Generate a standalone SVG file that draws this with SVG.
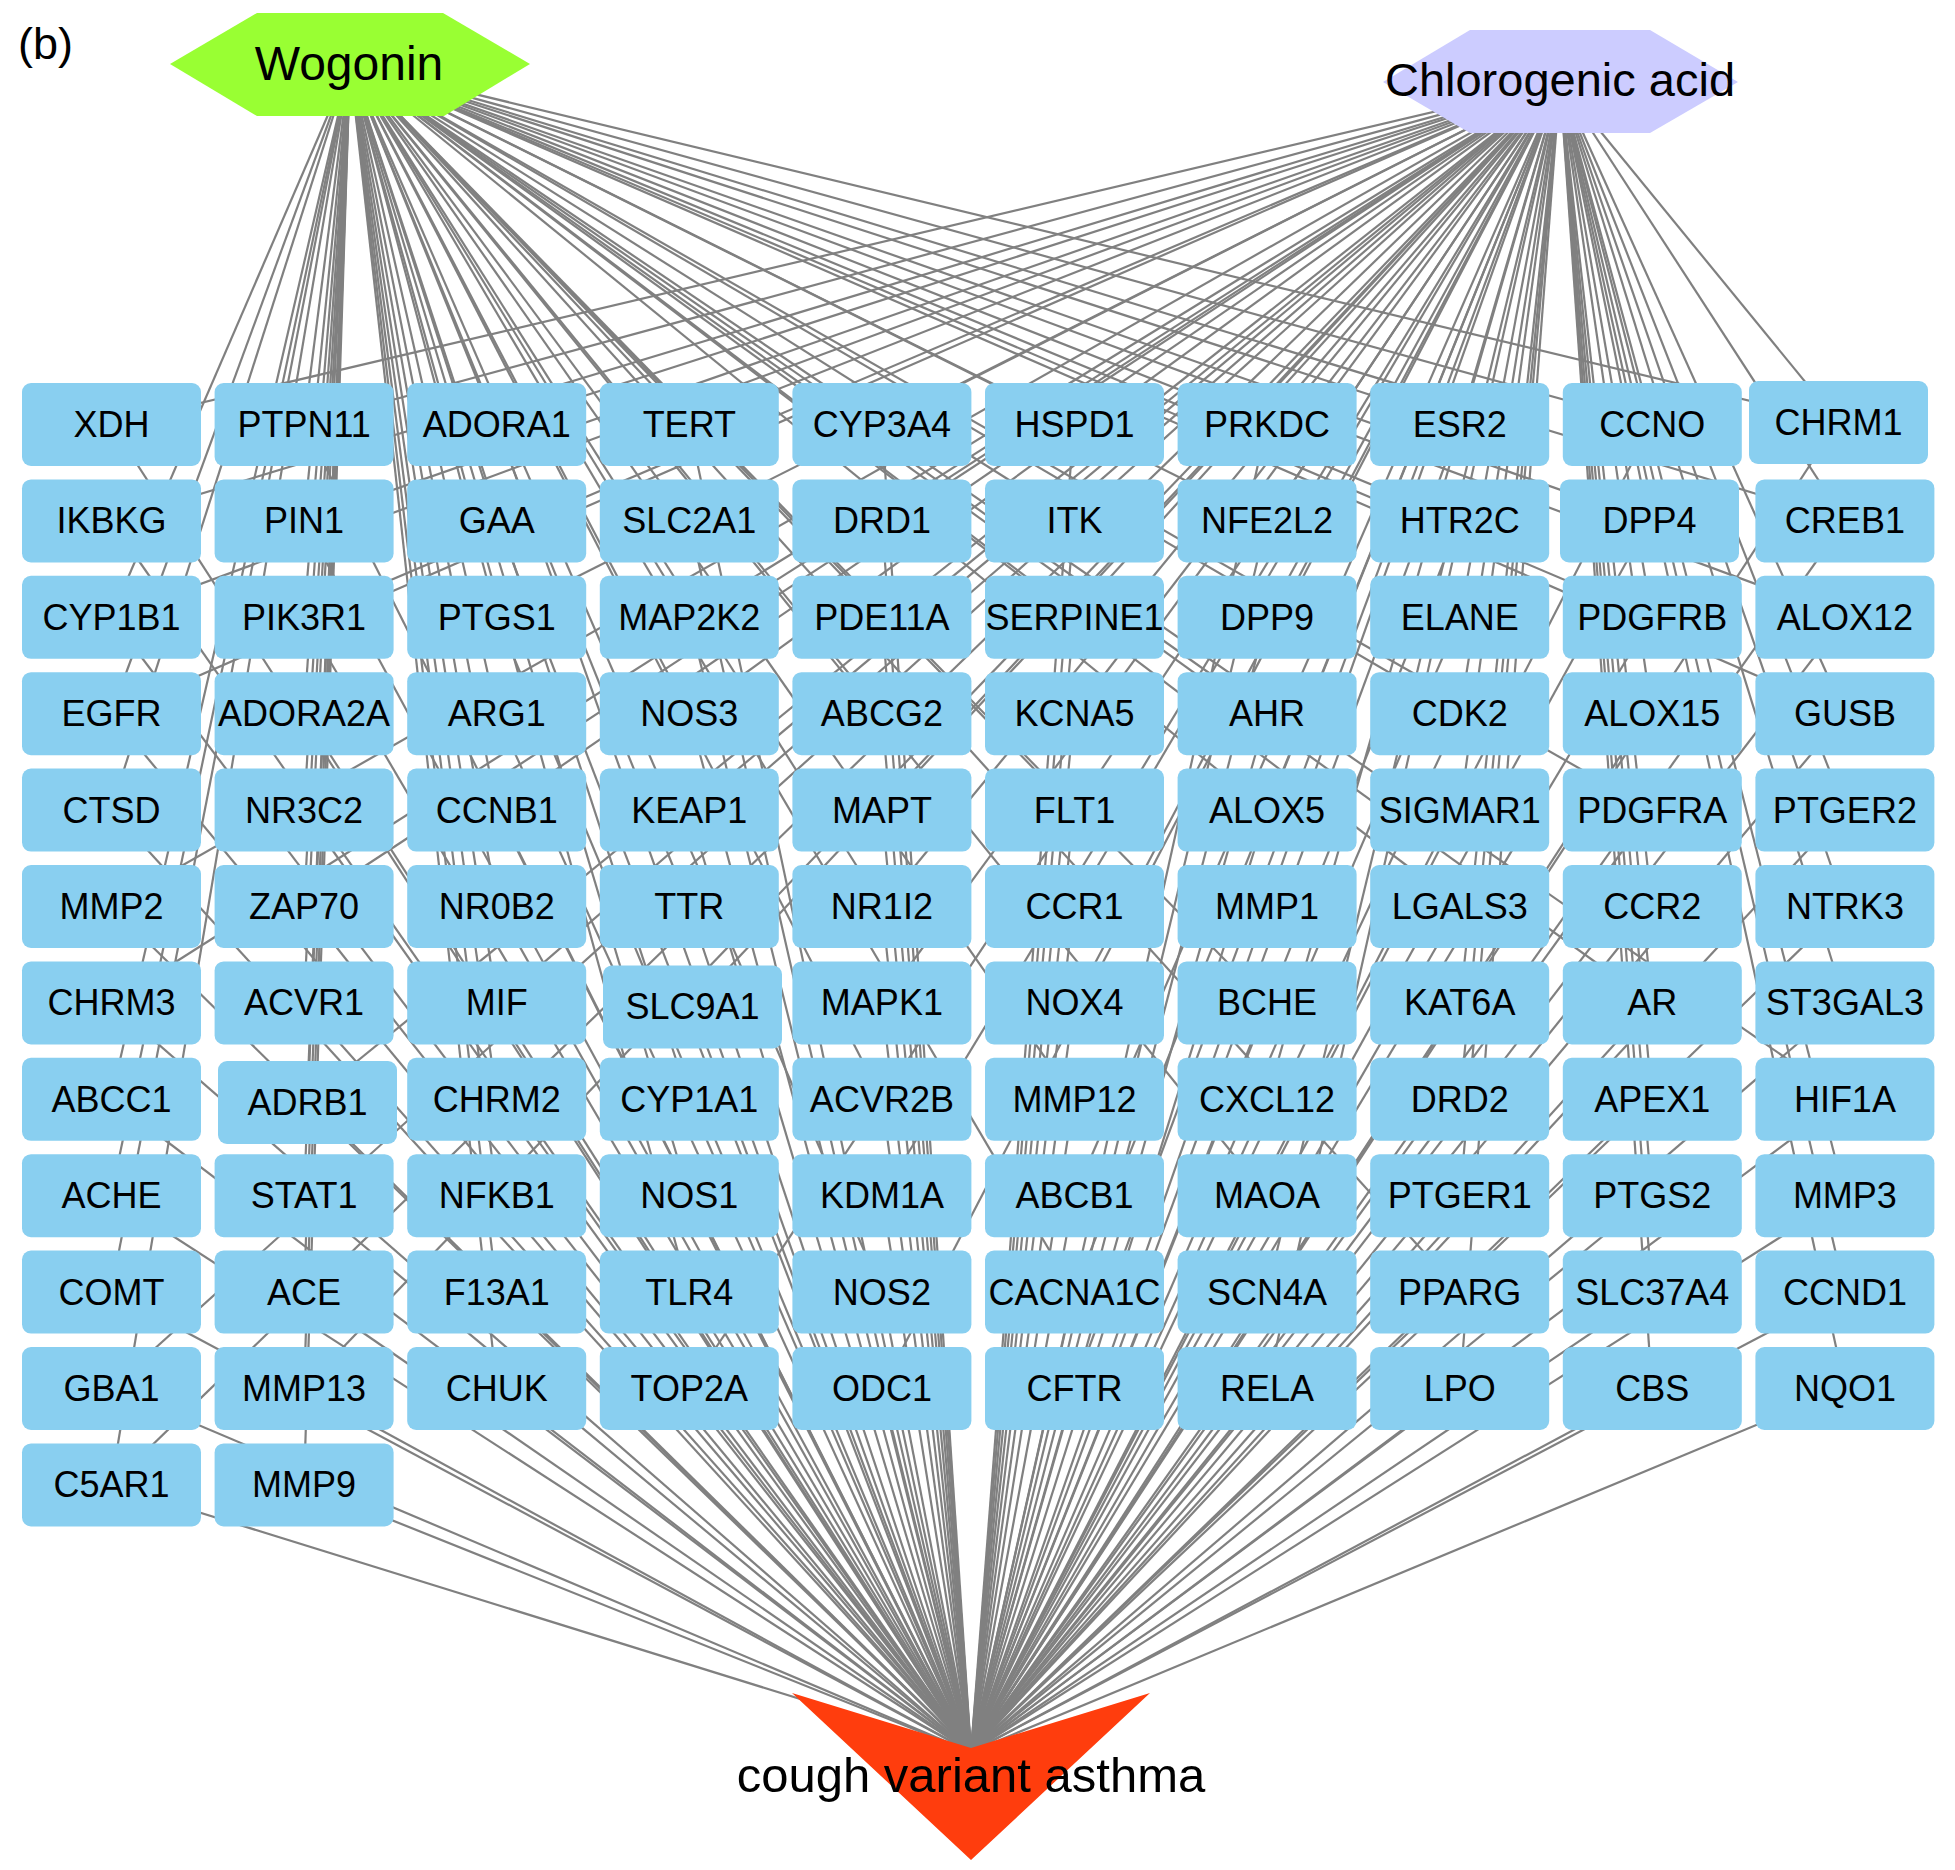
<svg xmlns="http://www.w3.org/2000/svg" width="1955" height="1870" viewBox="0 0 1955 1870">
<style>
.e{stroke:#808080;stroke-width:2.2;fill:none}
.box{fill:#89CFF0}
.lbl{font-family:"Liberation Sans",Arial,sans-serif;font-size:36px;fill:#000;text-anchor:middle}
.hub{font-family:"Liberation Sans",Arial,sans-serif;fill:#000;text-anchor:middle}
</style>
<defs>
<rect id="gbox" class="box" x="0" y="0" width="179" height="83" rx="9" ry="9"/>
</defs>
<rect x="0" y="0" width="1955" height="1870" fill="#fff"/>
<text x="18" y="59" font-family="Liberation Sans,Arial,sans-serif" font-size="45" fill="#000">(b)</text>
<g id="connectors" class="e">
<g id="edges-wogonin">
<line x1="350" y1="64" x2="111" y2="617"/><line x1="350" y1="64" x2="111" y2="714"/><line x1="350" y1="64" x2="111" y2="810"/><line x1="350" y1="64" x2="111" y2="1099"/><line x1="350" y1="64" x2="111" y2="1196"/><line x1="350" y1="64" x2="111" y2="1292"/><line x1="350" y1="64" x2="111" y2="1485"/>
<line x1="350" y1="64" x2="304" y2="424"/><line x1="350" y1="64" x2="304" y2="521"/><line x1="350" y1="64" x2="304" y2="617"/><line x1="350" y1="64" x2="304" y2="714"/><line x1="350" y1="64" x2="304" y2="810"/><line x1="350" y1="64" x2="304" y2="906"/><line x1="350" y1="64" x2="304" y2="1003"/><line x1="350" y1="64" x2="307" y2="1102"/><line x1="350" y1="64" x2="304" y2="1196"/><line x1="350" y1="64" x2="304" y2="1292"/><line x1="350" y1="64" x2="304" y2="1388"/><line x1="350" y1="64" x2="304" y2="1485"/>
<line x1="350" y1="64" x2="497" y2="424"/><line x1="350" y1="64" x2="497" y2="521"/><line x1="350" y1="64" x2="497" y2="617"/><line x1="350" y1="64" x2="497" y2="714"/><line x1="350" y1="64" x2="497" y2="810"/><line x1="350" y1="64" x2="497" y2="906"/><line x1="350" y1="64" x2="497" y2="1003"/><line x1="350" y1="64" x2="497" y2="1099"/><line x1="350" y1="64" x2="497" y2="1196"/><line x1="350" y1="64" x2="497" y2="1292"/><line x1="350" y1="64" x2="497" y2="1388"/>
<line x1="350" y1="64" x2="689" y2="424"/><line x1="350" y1="64" x2="689" y2="521"/><line x1="350" y1="64" x2="689" y2="617"/><line x1="350" y1="64" x2="689" y2="714"/><line x1="350" y1="64" x2="689" y2="906"/><line x1="350" y1="64" x2="689" y2="1099"/><line x1="350" y1="64" x2="689" y2="1196"/><line x1="350" y1="64" x2="689" y2="1292"/>
<line x1="350" y1="64" x2="882" y2="424"/><line x1="350" y1="64" x2="882" y2="617"/><line x1="350" y1="64" x2="882" y2="714"/><line x1="350" y1="64" x2="882" y2="906"/><line x1="350" y1="64" x2="882" y2="1099"/><line x1="350" y1="64" x2="882" y2="1292"/>
<line x1="350" y1="64" x2="1074" y2="424"/><line x1="350" y1="64" x2="1074" y2="521"/><line x1="350" y1="64" x2="1074" y2="617"/><line x1="350" y1="64" x2="1074" y2="810"/><line x1="350" y1="64" x2="1074" y2="1099"/><line x1="350" y1="64" x2="1074" y2="1292"/>
<line x1="350" y1="64" x2="1267" y2="424"/><line x1="350" y1="64" x2="1267" y2="521"/><line x1="350" y1="64" x2="1267" y2="714"/><line x1="350" y1="64" x2="1267" y2="810"/><line x1="350" y1="64" x2="1267" y2="1003"/><line x1="350" y1="64" x2="1267" y2="1196"/>
<line x1="350" y1="64" x2="1460" y2="424"/><line x1="350" y1="64" x2="1460" y2="521"/><line x1="350" y1="64" x2="1460" y2="714"/><line x1="350" y1="64" x2="1460" y2="906"/><line x1="350" y1="64" x2="1460" y2="1292"/>
<line x1="350" y1="64" x2="1652" y2="424"/><line x1="350" y1="64" x2="1649" y2="521"/><line x1="350" y1="64" x2="1652" y2="617"/><line x1="350" y1="64" x2="1652" y2="810"/><line x1="350" y1="64" x2="1652" y2="1003"/>
<line x1="350" y1="64" x2="1838" y2="422"/><line x1="350" y1="64" x2="1845" y2="521"/><line x1="350" y1="64" x2="1845" y2="617"/><line x1="350" y1="64" x2="1845" y2="714"/><line x1="350" y1="64" x2="1845" y2="1099"/>
</g>
<g id="edges-chlorogenic">
<line x1="1560" y1="82" x2="111" y2="424"/><line x1="1560" y1="82" x2="111" y2="521"/><line x1="1560" y1="82" x2="111" y2="617"/><line x1="1560" y1="82" x2="111" y2="714"/><line x1="1560" y1="82" x2="111" y2="906"/><line x1="1560" y1="82" x2="111" y2="1003"/><line x1="1560" y1="82" x2="111" y2="1388"/><line x1="1560" y1="82" x2="111" y2="1485"/>
<line x1="1560" y1="82" x2="304" y2="424"/><line x1="1560" y1="82" x2="304" y2="521"/><line x1="1560" y1="82" x2="304" y2="617"/><line x1="1560" y1="82" x2="304" y2="906"/><line x1="1560" y1="82" x2="307" y2="1102"/><line x1="1560" y1="82" x2="304" y2="1388"/>
<line x1="1560" y1="82" x2="497" y2="424"/><line x1="1560" y1="82" x2="497" y2="617"/><line x1="1560" y1="82" x2="497" y2="810"/><line x1="1560" y1="82" x2="497" y2="1003"/>
<line x1="1560" y1="82" x2="689" y2="424"/><line x1="1560" y1="82" x2="689" y2="617"/><line x1="1560" y1="82" x2="689" y2="714"/><line x1="1560" y1="82" x2="689" y2="810"/><line x1="1560" y1="82" x2="692" y2="1007"/><line x1="1560" y1="82" x2="689" y2="1388"/>
<line x1="1560" y1="82" x2="882" y2="424"/><line x1="1560" y1="82" x2="882" y2="521"/><line x1="1560" y1="82" x2="882" y2="617"/><line x1="1560" y1="82" x2="882" y2="810"/><line x1="1560" y1="82" x2="882" y2="906"/><line x1="1560" y1="82" x2="882" y2="1003"/><line x1="1560" y1="82" x2="882" y2="1196"/><line x1="1560" y1="82" x2="882" y2="1388"/>
<line x1="1560" y1="82" x2="1074" y2="617"/><line x1="1560" y1="82" x2="1074" y2="714"/><line x1="1560" y1="82" x2="1074" y2="906"/><line x1="1560" y1="82" x2="1074" y2="1003"/><line x1="1560" y1="82" x2="1074" y2="1196"/><line x1="1560" y1="82" x2="1074" y2="1292"/><line x1="1560" y1="82" x2="1074" y2="1388"/>
<line x1="1560" y1="82" x2="1267" y2="424"/><line x1="1560" y1="82" x2="1267" y2="521"/><line x1="1560" y1="82" x2="1267" y2="617"/><line x1="1560" y1="82" x2="1267" y2="810"/><line x1="1560" y1="82" x2="1267" y2="906"/><line x1="1560" y1="82" x2="1267" y2="1099"/><line x1="1560" y1="82" x2="1267" y2="1292"/><line x1="1560" y1="82" x2="1267" y2="1388"/>
<line x1="1560" y1="82" x2="1460" y2="424"/><line x1="1560" y1="82" x2="1460" y2="617"/><line x1="1560" y1="82" x2="1460" y2="714"/><line x1="1560" y1="82" x2="1460" y2="810"/><line x1="1560" y1="82" x2="1460" y2="1003"/><line x1="1560" y1="82" x2="1460" y2="1099"/><line x1="1560" y1="82" x2="1460" y2="1196"/><line x1="1560" y1="82" x2="1460" y2="1388"/>
<line x1="1560" y1="82" x2="1652" y2="424"/><line x1="1560" y1="82" x2="1649" y2="521"/><line x1="1560" y1="82" x2="1652" y2="617"/><line x1="1560" y1="82" x2="1652" y2="714"/><line x1="1560" y1="82" x2="1652" y2="906"/><line x1="1560" y1="82" x2="1652" y2="1003"/><line x1="1560" y1="82" x2="1652" y2="1099"/><line x1="1560" y1="82" x2="1652" y2="1196"/><line x1="1560" y1="82" x2="1652" y2="1292"/><line x1="1560" y1="82" x2="1652" y2="1388"/>
<line x1="1560" y1="82" x2="1838" y2="422"/><line x1="1560" y1="82" x2="1845" y2="521"/><line x1="1560" y1="82" x2="1845" y2="714"/><line x1="1560" y1="82" x2="1845" y2="810"/><line x1="1560" y1="82" x2="1845" y2="906"/><line x1="1560" y1="82" x2="1845" y2="1003"/><line x1="1560" y1="82" x2="1845" y2="1196"/><line x1="1560" y1="82" x2="1845" y2="1292"/><line x1="1560" y1="82" x2="1845" y2="1388"/>
</g>
<g id="edges-cva">
<line x1="971" y1="1752" x2="111" y2="424"/><line x1="971" y1="1752" x2="111" y2="521"/><line x1="971" y1="1752" x2="111" y2="617"/><line x1="971" y1="1752" x2="111" y2="714"/><line x1="971" y1="1752" x2="111" y2="810"/><line x1="971" y1="1752" x2="111" y2="906"/><line x1="971" y1="1752" x2="111" y2="1003"/><line x1="971" y1="1752" x2="111" y2="1099"/><line x1="971" y1="1752" x2="111" y2="1196"/><line x1="971" y1="1752" x2="111" y2="1292"/><line x1="971" y1="1752" x2="111" y2="1388"/><line x1="971" y1="1752" x2="111" y2="1485"/>
<line x1="971" y1="1752" x2="304" y2="424"/><line x1="971" y1="1752" x2="304" y2="521"/><line x1="971" y1="1752" x2="304" y2="617"/><line x1="971" y1="1752" x2="304" y2="714"/><line x1="971" y1="1752" x2="304" y2="810"/><line x1="971" y1="1752" x2="304" y2="906"/><line x1="971" y1="1752" x2="304" y2="1003"/><line x1="971" y1="1752" x2="307" y2="1102"/><line x1="971" y1="1752" x2="304" y2="1196"/><line x1="971" y1="1752" x2="304" y2="1292"/><line x1="971" y1="1752" x2="304" y2="1388"/><line x1="971" y1="1752" x2="304" y2="1485"/>
<line x1="971" y1="1752" x2="497" y2="424"/><line x1="971" y1="1752" x2="497" y2="521"/><line x1="971" y1="1752" x2="497" y2="617"/><line x1="971" y1="1752" x2="497" y2="714"/><line x1="971" y1="1752" x2="497" y2="810"/><line x1="971" y1="1752" x2="497" y2="906"/><line x1="971" y1="1752" x2="497" y2="1003"/><line x1="971" y1="1752" x2="497" y2="1099"/><line x1="971" y1="1752" x2="497" y2="1196"/><line x1="971" y1="1752" x2="497" y2="1292"/><line x1="971" y1="1752" x2="497" y2="1388"/>
<line x1="971" y1="1752" x2="689" y2="424"/><line x1="971" y1="1752" x2="689" y2="521"/><line x1="971" y1="1752" x2="689" y2="617"/><line x1="971" y1="1752" x2="689" y2="714"/><line x1="971" y1="1752" x2="689" y2="810"/><line x1="971" y1="1752" x2="689" y2="906"/><line x1="971" y1="1752" x2="692" y2="1007"/><line x1="971" y1="1752" x2="689" y2="1099"/><line x1="971" y1="1752" x2="689" y2="1196"/><line x1="971" y1="1752" x2="689" y2="1292"/><line x1="971" y1="1752" x2="689" y2="1388"/>
<line x1="971" y1="1752" x2="882" y2="424"/><line x1="971" y1="1752" x2="882" y2="521"/><line x1="971" y1="1752" x2="882" y2="617"/><line x1="971" y1="1752" x2="882" y2="714"/><line x1="971" y1="1752" x2="882" y2="810"/><line x1="971" y1="1752" x2="882" y2="906"/><line x1="971" y1="1752" x2="882" y2="1003"/><line x1="971" y1="1752" x2="882" y2="1099"/><line x1="971" y1="1752" x2="882" y2="1196"/><line x1="971" y1="1752" x2="882" y2="1292"/><line x1="971" y1="1752" x2="882" y2="1388"/>
<line x1="971" y1="1752" x2="1074" y2="424"/><line x1="971" y1="1752" x2="1074" y2="521"/><line x1="971" y1="1752" x2="1074" y2="617"/><line x1="971" y1="1752" x2="1074" y2="714"/><line x1="971" y1="1752" x2="1074" y2="810"/><line x1="971" y1="1752" x2="1074" y2="906"/><line x1="971" y1="1752" x2="1074" y2="1003"/><line x1="971" y1="1752" x2="1074" y2="1099"/><line x1="971" y1="1752" x2="1074" y2="1196"/><line x1="971" y1="1752" x2="1074" y2="1292"/><line x1="971" y1="1752" x2="1074" y2="1388"/>
<line x1="971" y1="1752" x2="1267" y2="424"/><line x1="971" y1="1752" x2="1267" y2="521"/><line x1="971" y1="1752" x2="1267" y2="617"/><line x1="971" y1="1752" x2="1267" y2="714"/><line x1="971" y1="1752" x2="1267" y2="810"/><line x1="971" y1="1752" x2="1267" y2="906"/><line x1="971" y1="1752" x2="1267" y2="1003"/><line x1="971" y1="1752" x2="1267" y2="1099"/><line x1="971" y1="1752" x2="1267" y2="1196"/><line x1="971" y1="1752" x2="1267" y2="1292"/><line x1="971" y1="1752" x2="1267" y2="1388"/>
<line x1="971" y1="1752" x2="1460" y2="424"/><line x1="971" y1="1752" x2="1460" y2="521"/><line x1="971" y1="1752" x2="1460" y2="617"/><line x1="971" y1="1752" x2="1460" y2="714"/><line x1="971" y1="1752" x2="1460" y2="810"/><line x1="971" y1="1752" x2="1460" y2="906"/><line x1="971" y1="1752" x2="1460" y2="1003"/><line x1="971" y1="1752" x2="1460" y2="1099"/><line x1="971" y1="1752" x2="1460" y2="1196"/><line x1="971" y1="1752" x2="1460" y2="1292"/><line x1="971" y1="1752" x2="1460" y2="1388"/>
<line x1="971" y1="1752" x2="1652" y2="424"/><line x1="971" y1="1752" x2="1649" y2="521"/><line x1="971" y1="1752" x2="1652" y2="617"/><line x1="971" y1="1752" x2="1652" y2="714"/><line x1="971" y1="1752" x2="1652" y2="810"/><line x1="971" y1="1752" x2="1652" y2="906"/><line x1="971" y1="1752" x2="1652" y2="1003"/><line x1="971" y1="1752" x2="1652" y2="1099"/><line x1="971" y1="1752" x2="1652" y2="1196"/><line x1="971" y1="1752" x2="1652" y2="1292"/><line x1="971" y1="1752" x2="1652" y2="1388"/>
<line x1="971" y1="1752" x2="1838" y2="422"/><line x1="971" y1="1752" x2="1845" y2="521"/><line x1="971" y1="1752" x2="1845" y2="617"/><line x1="971" y1="1752" x2="1845" y2="714"/><line x1="971" y1="1752" x2="1845" y2="810"/><line x1="971" y1="1752" x2="1845" y2="906"/><line x1="971" y1="1752" x2="1845" y2="1003"/><line x1="971" y1="1752" x2="1845" y2="1099"/><line x1="971" y1="1752" x2="1845" y2="1196"/><line x1="971" y1="1752" x2="1845" y2="1292"/><line x1="971" y1="1752" x2="1845" y2="1388"/>
</g>
</g>
<g id="genes">
<g id="n-XDH" transform="translate(22,383)"><use href="#gbox"/><text class="lbl" x="89.5" y="54">XDH</text></g>
<g id="n-PTPN11" transform="translate(214.6,383)"><use href="#gbox"/><text class="lbl" x="89.5" y="54">PTPN11</text></g>
<g id="n-ADORA1" transform="translate(407.2,383)"><use href="#gbox"/><text class="lbl" x="89.5" y="54">ADORA1</text></g>
<g id="n-TERT" transform="translate(599.8,383)"><use href="#gbox"/><text class="lbl" x="89.5" y="54">TERT</text></g>
<g id="n-CYP3A4" transform="translate(792.4,383)"><use href="#gbox"/><text class="lbl" x="89.5" y="54">CYP3A4</text></g>
<g id="n-HSPD1" transform="translate(985,383)"><use href="#gbox"/><text class="lbl" x="89.5" y="54">HSPD1</text></g>
<g id="n-PRKDC" transform="translate(1177.6,383)"><use href="#gbox"/><text class="lbl" x="89.5" y="54">PRKDC</text></g>
<g id="n-ESR2" transform="translate(1370.2,383)"><use href="#gbox"/><text class="lbl" x="89.5" y="54">ESR2</text></g>
<g id="n-CCNO" transform="translate(1562.8,383)"><use href="#gbox"/><text class="lbl" x="89.5" y="54">CCNO</text></g>
<g id="n-CHRM1" transform="translate(1749,381)"><use href="#gbox"/><text class="lbl" x="89.5" y="54">CHRM1</text></g>

<g id="n-IKBKG" transform="translate(22,479.4)"><use href="#gbox"/><text class="lbl" x="89.5" y="54">IKBKG</text></g>
<g id="n-PIN1" transform="translate(214.6,479.4)"><use href="#gbox"/><text class="lbl" x="89.5" y="54">PIN1</text></g>
<g id="n-GAA" transform="translate(407.2,479.4)"><use href="#gbox"/><text class="lbl" x="89.5" y="54">GAA</text></g>
<g id="n-SLC2A1" transform="translate(599.8,479.4)"><use href="#gbox"/><text class="lbl" x="89.5" y="54">SLC2A1</text></g>
<g id="n-DRD1" transform="translate(792.4,479.4)"><use href="#gbox"/><text class="lbl" x="89.5" y="54">DRD1</text></g>
<g id="n-ITK" transform="translate(985,479.4)"><use href="#gbox"/><text class="lbl" x="89.5" y="54">ITK</text></g>
<g id="n-NFE2L2" transform="translate(1177.6,479.4)"><use href="#gbox"/><text class="lbl" x="89.5" y="54">NFE2L2</text></g>
<g id="n-HTR2C" transform="translate(1370.2,479.4)"><use href="#gbox"/><text class="lbl" x="89.5" y="54">HTR2C</text></g>
<g id="n-DPP4" transform="translate(1560,479.4)"><use href="#gbox"/><text class="lbl" x="89.5" y="54">DPP4</text></g>
<g id="n-CREB1" transform="translate(1755.4,479.4)"><use href="#gbox"/><text class="lbl" x="89.5" y="54">CREB1</text></g>

<g id="n-CYP1B1" transform="translate(22,575.8)"><use href="#gbox"/><text class="lbl" x="89.5" y="54">CYP1B1</text></g>
<g id="n-PIK3R1" transform="translate(214.6,575.8)"><use href="#gbox"/><text class="lbl" x="89.5" y="54">PIK3R1</text></g>
<g id="n-PTGS1" transform="translate(407.2,575.8)"><use href="#gbox"/><text class="lbl" x="89.5" y="54">PTGS1</text></g>
<g id="n-MAP2K2" transform="translate(599.8,575.8)"><use href="#gbox"/><text class="lbl" x="89.5" y="54">MAP2K2</text></g>
<g id="n-PDE11A" transform="translate(792.4,575.8)"><use href="#gbox"/><text class="lbl" x="89.5" y="54">PDE11A</text></g>
<g id="n-SERPINE1" transform="translate(985,575.8)"><use href="#gbox"/><text class="lbl" x="89.5" y="54">SERPINE1</text></g>
<g id="n-DPP9" transform="translate(1177.6,575.8)"><use href="#gbox"/><text class="lbl" x="89.5" y="54">DPP9</text></g>
<g id="n-ELANE" transform="translate(1370.2,575.8)"><use href="#gbox"/><text class="lbl" x="89.5" y="54">ELANE</text></g>
<g id="n-PDGFRB" transform="translate(1562.8,575.8)"><use href="#gbox"/><text class="lbl" x="89.5" y="54">PDGFRB</text></g>
<g id="n-ALOX12" transform="translate(1755.4,575.8)"><use href="#gbox"/><text class="lbl" x="89.5" y="54">ALOX12</text></g>

<g id="n-EGFR" transform="translate(22,672.2)"><use href="#gbox"/><text class="lbl" x="89.5" y="54">EGFR</text></g>
<g id="n-ADORA2A" transform="translate(214.6,672.2)"><use href="#gbox"/><text class="lbl" x="89.5" y="54">ADORA2A</text></g>
<g id="n-ARG1" transform="translate(407.2,672.2)"><use href="#gbox"/><text class="lbl" x="89.5" y="54">ARG1</text></g>
<g id="n-NOS3" transform="translate(599.8,672.2)"><use href="#gbox"/><text class="lbl" x="89.5" y="54">NOS3</text></g>
<g id="n-ABCG2" transform="translate(792.4,672.2)"><use href="#gbox"/><text class="lbl" x="89.5" y="54">ABCG2</text></g>
<g id="n-KCNA5" transform="translate(985,672.2)"><use href="#gbox"/><text class="lbl" x="89.5" y="54">KCNA5</text></g>
<g id="n-AHR" transform="translate(1177.6,672.2)"><use href="#gbox"/><text class="lbl" x="89.5" y="54">AHR</text></g>
<g id="n-CDK2" transform="translate(1370.2,672.2)"><use href="#gbox"/><text class="lbl" x="89.5" y="54">CDK2</text></g>
<g id="n-ALOX15" transform="translate(1562.8,672.2)"><use href="#gbox"/><text class="lbl" x="89.5" y="54">ALOX15</text></g>
<g id="n-GUSB" transform="translate(1755.4,672.2)"><use href="#gbox"/><text class="lbl" x="89.5" y="54">GUSB</text></g>

<g id="n-CTSD" transform="translate(22,768.6)"><use href="#gbox"/><text class="lbl" x="89.5" y="54">CTSD</text></g>
<g id="n-NR3C2" transform="translate(214.6,768.6)"><use href="#gbox"/><text class="lbl" x="89.5" y="54">NR3C2</text></g>
<g id="n-CCNB1" transform="translate(407.2,768.6)"><use href="#gbox"/><text class="lbl" x="89.5" y="54">CCNB1</text></g>
<g id="n-KEAP1" transform="translate(599.8,768.6)"><use href="#gbox"/><text class="lbl" x="89.5" y="54">KEAP1</text></g>
<g id="n-MAPT" transform="translate(792.4,768.6)"><use href="#gbox"/><text class="lbl" x="89.5" y="54">MAPT</text></g>
<g id="n-FLT1" transform="translate(985,768.6)"><use href="#gbox"/><text class="lbl" x="89.5" y="54">FLT1</text></g>
<g id="n-ALOX5" transform="translate(1177.6,768.6)"><use href="#gbox"/><text class="lbl" x="89.5" y="54">ALOX5</text></g>
<g id="n-SIGMAR1" transform="translate(1370.2,768.6)"><use href="#gbox"/><text class="lbl" x="89.5" y="54">SIGMAR1</text></g>
<g id="n-PDGFRA" transform="translate(1562.8,768.6)"><use href="#gbox"/><text class="lbl" x="89.5" y="54">PDGFRA</text></g>
<g id="n-PTGER2" transform="translate(1755.4,768.6)"><use href="#gbox"/><text class="lbl" x="89.5" y="54">PTGER2</text></g>

<g id="n-MMP2" transform="translate(22,865)"><use href="#gbox"/><text class="lbl" x="89.5" y="54">MMP2</text></g>
<g id="n-ZAP70" transform="translate(214.6,865)"><use href="#gbox"/><text class="lbl" x="89.5" y="54">ZAP70</text></g>
<g id="n-NR0B2" transform="translate(407.2,865)"><use href="#gbox"/><text class="lbl" x="89.5" y="54">NR0B2</text></g>
<g id="n-TTR" transform="translate(599.8,865)"><use href="#gbox"/><text class="lbl" x="89.5" y="54">TTR</text></g>
<g id="n-NR1I2" transform="translate(792.4,865)"><use href="#gbox"/><text class="lbl" x="89.5" y="54">NR1I2</text></g>
<g id="n-CCR1" transform="translate(985,865)"><use href="#gbox"/><text class="lbl" x="89.5" y="54">CCR1</text></g>
<g id="n-MMP1" transform="translate(1177.6,865)"><use href="#gbox"/><text class="lbl" x="89.5" y="54">MMP1</text></g>
<g id="n-LGALS3" transform="translate(1370.2,865)"><use href="#gbox"/><text class="lbl" x="89.5" y="54">LGALS3</text></g>
<g id="n-CCR2" transform="translate(1562.8,865)"><use href="#gbox"/><text class="lbl" x="89.5" y="54">CCR2</text></g>
<g id="n-NTRK3" transform="translate(1755.4,865)"><use href="#gbox"/><text class="lbl" x="89.5" y="54">NTRK3</text></g>

<g id="n-CHRM3" transform="translate(22,961.4)"><use href="#gbox"/><text class="lbl" x="89.5" y="54">CHRM3</text></g>
<g id="n-ACVR1" transform="translate(214.6,961.4)"><use href="#gbox"/><text class="lbl" x="89.5" y="54">ACVR1</text></g>
<g id="n-MIF" transform="translate(407.2,961.4)"><use href="#gbox"/><text class="lbl" x="89.5" y="54">MIF</text></g>
<g id="n-SLC9A1" transform="translate(603,965.4)"><use href="#gbox"/><text class="lbl" x="89.5" y="54">SLC9A1</text></g>
<g id="n-MAPK1" transform="translate(792.4,961.4)"><use href="#gbox"/><text class="lbl" x="89.5" y="54">MAPK1</text></g>
<g id="n-NOX4" transform="translate(985,961.4)"><use href="#gbox"/><text class="lbl" x="89.5" y="54">NOX4</text></g>
<g id="n-BCHE" transform="translate(1177.6,961.4)"><use href="#gbox"/><text class="lbl" x="89.5" y="54">BCHE</text></g>
<g id="n-KAT6A" transform="translate(1370.2,961.4)"><use href="#gbox"/><text class="lbl" x="89.5" y="54">KAT6A</text></g>
<g id="n-AR" transform="translate(1562.8,961.4)"><use href="#gbox"/><text class="lbl" x="89.5" y="54">AR</text></g>
<g id="n-ST3GAL3" transform="translate(1755.4,961.4)"><use href="#gbox"/><text class="lbl" x="89.5" y="54">ST3GAL3</text></g>

<g id="n-ABCC1" transform="translate(22,1057.8)"><use href="#gbox"/><text class="lbl" x="89.5" y="54">ABCC1</text></g>
<g id="n-ADRB1" transform="translate(218,1061)"><use href="#gbox"/><text class="lbl" x="89.5" y="54">ADRB1</text></g>
<g id="n-CHRM2" transform="translate(407.2,1057.8)"><use href="#gbox"/><text class="lbl" x="89.5" y="54">CHRM2</text></g>
<g id="n-CYP1A1" transform="translate(599.8,1057.8)"><use href="#gbox"/><text class="lbl" x="89.5" y="54">CYP1A1</text></g>
<g id="n-ACVR2B" transform="translate(792.4,1057.8)"><use href="#gbox"/><text class="lbl" x="89.5" y="54">ACVR2B</text></g>
<g id="n-MMP12" transform="translate(985,1057.8)"><use href="#gbox"/><text class="lbl" x="89.5" y="54">MMP12</text></g>
<g id="n-CXCL12" transform="translate(1177.6,1057.8)"><use href="#gbox"/><text class="lbl" x="89.5" y="54">CXCL12</text></g>
<g id="n-DRD2" transform="translate(1370.2,1057.8)"><use href="#gbox"/><text class="lbl" x="89.5" y="54">DRD2</text></g>
<g id="n-APEX1" transform="translate(1562.8,1057.8)"><use href="#gbox"/><text class="lbl" x="89.5" y="54">APEX1</text></g>
<g id="n-HIF1A" transform="translate(1755.4,1057.8)"><use href="#gbox"/><text class="lbl" x="89.5" y="54">HIF1A</text></g>

<g id="n-ACHE" transform="translate(22,1154.2)"><use href="#gbox"/><text class="lbl" x="89.5" y="54">ACHE</text></g>
<g id="n-STAT1" transform="translate(214.6,1154.2)"><use href="#gbox"/><text class="lbl" x="89.5" y="54">STAT1</text></g>
<g id="n-NFKB1" transform="translate(407.2,1154.2)"><use href="#gbox"/><text class="lbl" x="89.5" y="54">NFKB1</text></g>
<g id="n-NOS1" transform="translate(599.8,1154.2)"><use href="#gbox"/><text class="lbl" x="89.5" y="54">NOS1</text></g>
<g id="n-KDM1A" transform="translate(792.4,1154.2)"><use href="#gbox"/><text class="lbl" x="89.5" y="54">KDM1A</text></g>
<g id="n-ABCB1" transform="translate(985,1154.2)"><use href="#gbox"/><text class="lbl" x="89.5" y="54">ABCB1</text></g>
<g id="n-MAOA" transform="translate(1177.6,1154.2)"><use href="#gbox"/><text class="lbl" x="89.5" y="54">MAOA</text></g>
<g id="n-PTGER1" transform="translate(1370.2,1154.2)"><use href="#gbox"/><text class="lbl" x="89.5" y="54">PTGER1</text></g>
<g id="n-PTGS2" transform="translate(1562.8,1154.2)"><use href="#gbox"/><text class="lbl" x="89.5" y="54">PTGS2</text></g>
<g id="n-MMP3" transform="translate(1755.4,1154.2)"><use href="#gbox"/><text class="lbl" x="89.5" y="54">MMP3</text></g>

<g id="n-COMT" transform="translate(22,1250.6)"><use href="#gbox"/><text class="lbl" x="89.5" y="54">COMT</text></g>
<g id="n-ACE" transform="translate(214.6,1250.6)"><use href="#gbox"/><text class="lbl" x="89.5" y="54">ACE</text></g>
<g id="n-F13A1" transform="translate(407.2,1250.6)"><use href="#gbox"/><text class="lbl" x="89.5" y="54">F13A1</text></g>
<g id="n-TLR4" transform="translate(599.8,1250.6)"><use href="#gbox"/><text class="lbl" x="89.5" y="54">TLR4</text></g>
<g id="n-NOS2" transform="translate(792.4,1250.6)"><use href="#gbox"/><text class="lbl" x="89.5" y="54">NOS2</text></g>
<g id="n-CACNA1C" transform="translate(985,1250.6)"><use href="#gbox"/><text class="lbl" x="89.5" y="54">CACNA1C</text></g>
<g id="n-SCN4A" transform="translate(1177.6,1250.6)"><use href="#gbox"/><text class="lbl" x="89.5" y="54">SCN4A</text></g>
<g id="n-PPARG" transform="translate(1370.2,1250.6)"><use href="#gbox"/><text class="lbl" x="89.5" y="54">PPARG</text></g>
<g id="n-SLC37A4" transform="translate(1562.8,1250.6)"><use href="#gbox"/><text class="lbl" x="89.5" y="54">SLC37A4</text></g>
<g id="n-CCND1" transform="translate(1755.4,1250.6)"><use href="#gbox"/><text class="lbl" x="89.5" y="54">CCND1</text></g>

<g id="n-GBA1" transform="translate(22,1347)"><use href="#gbox"/><text class="lbl" x="89.5" y="54">GBA1</text></g>
<g id="n-MMP13" transform="translate(214.6,1347)"><use href="#gbox"/><text class="lbl" x="89.5" y="54">MMP13</text></g>
<g id="n-CHUK" transform="translate(407.2,1347)"><use href="#gbox"/><text class="lbl" x="89.5" y="54">CHUK</text></g>
<g id="n-TOP2A" transform="translate(599.8,1347)"><use href="#gbox"/><text class="lbl" x="89.5" y="54">TOP2A</text></g>
<g id="n-ODC1" transform="translate(792.4,1347)"><use href="#gbox"/><text class="lbl" x="89.5" y="54">ODC1</text></g>
<g id="n-CFTR" transform="translate(985,1347)"><use href="#gbox"/><text class="lbl" x="89.5" y="54">CFTR</text></g>
<g id="n-RELA" transform="translate(1177.6,1347)"><use href="#gbox"/><text class="lbl" x="89.5" y="54">RELA</text></g>
<g id="n-LPO" transform="translate(1370.2,1347)"><use href="#gbox"/><text class="lbl" x="89.5" y="54">LPO</text></g>
<g id="n-CBS" transform="translate(1562.8,1347)"><use href="#gbox"/><text class="lbl" x="89.5" y="54">CBS</text></g>
<g id="n-NQO1" transform="translate(1755.4,1347)"><use href="#gbox"/><text class="lbl" x="89.5" y="54">NQO1</text></g>

<g id="n-C5AR1" transform="translate(22,1443.4)"><use href="#gbox"/><text class="lbl" x="89.5" y="54">C5AR1</text></g>
<g id="n-MMP9" transform="translate(214.6,1443.4)"><use href="#gbox"/><text class="lbl" x="89.5" y="54">MMP9</text></g>
</g>
<g id="n-wogonin">
<polygon points="170,64 257,13 443,13 530,64 444,116 257,116" fill="#99FF33"/>
<text class="hub" x="349" y="80" font-size="48">Wogonin</text>
</g>
<g id="n-chlorogenic">
<polygon points="1383,82 1470,30 1650,30 1738,82 1650,133 1470,133" fill="#CCCCFF"/>
<text class="hub" x="1560" y="96" font-size="47">Chlorogenic acid</text>
</g>
<g id="n-cva">
<polygon points="792,1693 971,1748 1150,1693 971,1860" fill="#FF3D0D"/>
<text class="hub" x="971" y="1792" font-size="49">cough variant asthma</text>
</g>
</svg>
